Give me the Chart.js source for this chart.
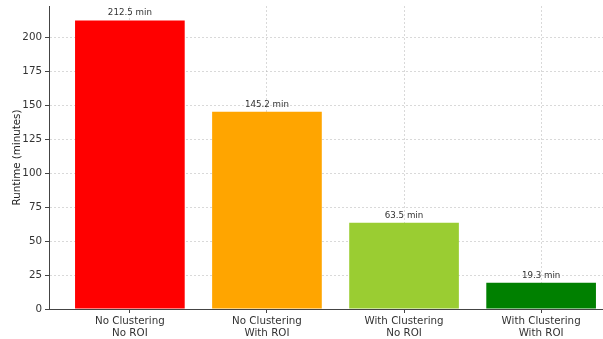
<!DOCTYPE html>
<html><head><meta charset="utf-8">
<script src="https://cdn.jsdelivr.net/npm/chart.js@4/dist/chart.umd.min.js"></script>
<style>html,body{margin:0;padding:0;overflow:hidden;background:#fff;width:603px;height:339px}</style>
</head><body>
<canvas id="c" width="622" height="339" style="width:622px;height:339px"></canvas>
<script>
const categories = [["No Clustering","No ROI"],["No Clustering","With ROI"],["With Clustering","No ROI"],["With Clustering","With ROI"]];
const runtimes = [212.5, 145.2, 63.5, 19.3];
const barColors = ["#ff0000","#ffa500","#9acd32","#008000"];
const yTicks = [0,25,50,75,100,125,150,175,200];

const labelPlugin = {
  id:'barLabels',
  afterDatasetsDraw(chart){
    const ctx = chart.ctx;
    const meta = chart.getDatasetMeta(0);
    ctx.save();
    ctx.font = '8.7px "DejaVu Sans"';
    ctx.fillStyle = '#333';
    ctx.textAlign = 'center';
    ctx.textBaseline = 'bottom';
    meta.data.forEach((bar,i)=>{
      ctx.fillText(runtimes[i].toFixed(1)+' min', bar.x, bar.y-3);
    });
    ctx.restore();
  }
};

new Chart(document.getElementById('c'), {
  type:'bar',
  data:{
    datasets:[{
      data: runtimes.map((v,i)=>({x:i,y:v})),
      backgroundColor: barColors,
      borderWidth:0,
      barPercentage:0.8,
      categoryPercentage:1
    }]
  },
  options:{
    responsive:false,
    animation:false,
    layout:{padding:{top:6,right:0,left:0,bottom:0}},
    plugins:{legend:{display:false},tooltip:{enabled:false}},
    scales:{
      x:{
        type:'linear', min:-0.59, max:3.59, z:1, offset:false,
        afterBuildTicks(s){ s.ticks = categories.map((c,i)=>({value:i})); },
        afterFit(s){ s.height = 30; s.paddingLeft = 0; s.paddingRight = 0; },
        ticks:{ includeBounds:false, autoSkip:false, maxRotation:0, padding:2,
          callback:(v)=>categories[v], color:'#333', font:{family:'DejaVu Sans', size:10.3} },
        grid:{ offset:false, color:'rgba(170,170,170,0.45)', lineWidth:1, tickColor:'#444', tickLength:4, tickBorderDash:[] },
        border:{ color:'#444', width:1, dash:[2,2] }
      },
      y:{
        min:0, max:223.125, z:1,
        afterBuildTicks(s){ s.ticks = yTicks.map(v=>({value:v})); },
        afterFit(s){ s.width = 49; s.paddingTop = 0; s.paddingBottom = 0; },
        ticks:{ includeBounds:false, padding:3, color:'#333', font:{family:'DejaVu Sans', size:10.3} },
        grid:{ color:'rgba(170,170,170,0.45)', lineWidth:1, tickColor:'#444', tickLength:4, tickBorderDash:[] },
        border:{ color:'#444', width:1, dash:[2,2] },
        title:{ display:true, text:'Runtime (minutes)', color:'#222', font:{family:'DejaVu Sans', size:10.3}, padding:{top:11,bottom:4} }
      }
    }
  },
  plugins:[labelPlugin]
});
</script>
</body></html>
